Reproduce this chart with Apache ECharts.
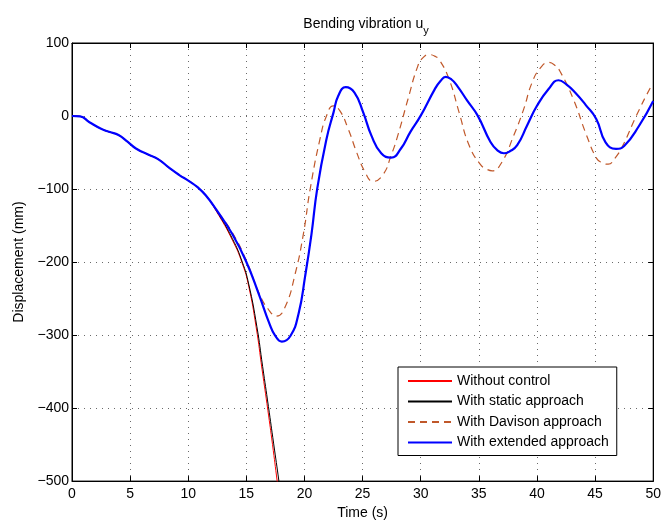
<!DOCTYPE html>
<html>
<head>
<meta charset="utf-8">
<script src="https://cdn.jsdelivr.net/npm/echarts@6/dist/echarts.min.js"></script>
<style>
html,body{margin:0;padding:0;background:#fff;}
#chart{width:664px;height:525px;}
</style>
</head>
<body>
<div id="chart"></div>
<script>
const xTicks = [0, 50, 5];
const yTicks = [-500, 100, 100];

const seriesNames = ['Without control', 'With static approach', 'With Davison approach', 'With extended approach'];

const timeNoCtrl = [0,0.7,1.5,2.5,3.25,4,4.8,5.5,6.5,7.4,8.4,9.2,10.1,10.8,11.5,12.4,13.8,14.65,15.2,15.85,16.35,16.85,17.25,17.65,17.85];
const dispNoCtrl = [0,-0.5,-8.5,-17.5,-22,-26,-35.5,-44.5,-52.5,-59,-71.5,-80.5,-89.5,-97.5,-108.5,-130,-170,-202,-233,-290,-347,-403,-450,-500,-525];

const timeStatic = [0,0.7,1.5,2.5,3.25,4,4.8,5.5,6.5,7.4,8.4,9.2,10.1,10.8,11.5,12.4,13.8,14.65,15.2,15.9,16.4,16.9,17.35,17.8,18.0];
const dispStatic = [0,-0.5,-8.5,-17.5,-22,-26,-35.5,-44.5,-52.5,-59,-71.5,-80.5,-89.5,-97.5,-108.5,-129,-168,-200,-230,-288,-343,-398,-449,-500,-525];

const timeDavison = [0,0.7,1.5,2.5,3.25,4,4.8,5.5,6.5,7.4,8.4,9.2,10.1,10.8,11.5,12.4,13.8,15.05,16.07,16.9,17.6,18.35,19.2,19.9,20.5,21.34,21.9,22.48,23.05,23.76,24.47,25.19,25.9,26.75,27.46,28.03,28.9,29.74,30.2,30.74,31.2,31.6,32.45,33.3,34.16,35.16,35.7,36.15,37,38,38.86,39.57,40.3,41,41.5,41.99,43.13,44.27,45.13,45.6,46.13,46.7,47.4,48.55,49.83,50];
const dispDavison = [0,-0.5,-8.5,-17.5,-22,-26,-35.5,-44.5,-52.5,-59,-71.5,-80.5,-89.5,-97.5,-108.5,-128,-160,-200,-242,-265,-274,-261,-216,-162,-99,-31,0.5,14,7,-17.6,-49,-76,-89.5,-80.5,-53.6,-26.6,23,68,80,84,82,77,50,5,-40,-67,-73,-75,-62.6,-26.6,9.5,45.5,66,73.4,70,61,23,-26.6,-58,-64,-66,-58,-40,0.5,41,44];

const timeExtended = [0,0.7,1.5,2.5,3.25,4,4.8,5.5,6.5,7.4,8.4,9.2,10.1,10.8,11.5,12.4,13.8,15.0,16.07,17.0,17.45,18.05,18.8,19.5,20.05,20.6,21.1,21.9,22.5,22.9,23.55,24.3,25.05,25.75,26.6,27.45,28.3,29.1,30,31.2,31.7,32.15,32.65,33.15,34,34.9,36,36.6,37.15,37.7,38.3,39.15,40,41,41.85,42.55,43.3,44.2,45.1,45.9,46.8,47.5,48.8,50];
const dispExtended = [0,-0.5,-8.5,-17.5,-22,-26,-35.5,-44.5,-52.5,-59,-71.5,-80.5,-89.5,-97.5,-108.5,-128,-162,-200,-244,-285,-300,-309,-301,-270,-220,-162,-99,-31,5,27.5,39.5,32,5,-26.5,-51,-57,-44.5,-22,0.5,36.5,48,53.5,50,41,21,0.5,-35.5,-47,-51,-48,-40,-13,14,37,49,43,32,15,-4,-36,-45,-41,-13,20.5];

const pairs = (ts, vs) => ts.map((t, i) => [t, vs[i]]);
const FONT = '"Liberation Sans", Arial, Helvetica, sans-serif';
const minus = v => String(v).replace('-', '\u2212');

const chart = echarts.init(document.getElementById('chart'), null, {renderer: 'canvas'});

const gridLine = {show: true, lineStyle: {color: '#6a6a6a', type: [1, 5], width: 1}};

const option = {
  animation: false,
  backgroundColor: '#fff',
  title: {
    text: '{a|Bending vibration u}{b|y}',
    left: 361,
    top: 8,
    textAlign: 'center',
    textStyle: {
      fontWeight: 'normal',
      rich: {
        a: {fontFamily: FONT, fontSize: 14, fontWeight: 'normal', color: '#000'},
        b: {fontFamily: FONT, fontSize: 11, fontWeight: 'normal', color: '#000', padding: [12, 0, 0, 0]}
      }
    }
  },
  grid: {left: 72, right: 7, top: 43, bottom: 38, show: true, borderColor: '#000', borderWidth: 1, backgroundColor: 'transparent'},
  legend: {
    orient: 'vertical',
    left: 398,
    top: 367,
    padding: [7, 8, 6, 9],
    itemWidth: 44,
    itemHeight: 14,
    itemGap: 6.5,
    backgroundColor: '#fff',
    borderColor: '#000',
    borderWidth: 1,
    borderRadius: 0,
    itemStyle: {opacity: 0},
    textStyle: {fontFamily: FONT, fontSize: 14, color: '#000', padding: [0, 0, 0, 0]},
    data: seriesNames
  },
  xAxis: [{
    type: 'value', min: xTicks[0], max: xTicks[1], interval: xTicks[2],
    name: 'Time (s)', nameLocation: 'middle', nameGap: 22,
    nameTextStyle: {fontFamily: FONT, fontSize: 14, color: '#000'},
    axisLine: {show: true, onZero: false, lineStyle: {color: '#000', width: 1}},
    axisTick: {show: true, inside: true, length: 5, lineStyle: {color: '#000'}},
    axisLabel: {fontFamily: FONT, fontSize: 14, color: '#000', margin: 6, formatter: minus},
    splitLine: gridLine
  }, {
    type: 'value', position: 'top', min: xTicks[0], max: xTicks[1], interval: xTicks[2],
    axisLine: {show: true, onZero: false, lineStyle: {color: '#000', width: 1}},
    axisTick: {show: true, inside: true, length: 5, lineStyle: {color: '#000'}},
    axisLabel: {show: false}, splitLine: {show: false}
  }],
  yAxis: [{
    type: 'value', min: yTicks[0], max: yTicks[1], interval: yTicks[2],
    name: 'Displacement (mm)', nameLocation: 'middle', nameGap: 44,
    nameTextStyle: {fontFamily: FONT, fontSize: 14, color: '#000'},
    axisLine: {show: true, onZero: false, lineStyle: {color: '#000', width: 1}},
    axisTick: {show: true, inside: true, length: 5, lineStyle: {color: '#000'}},
    axisLabel: {fontFamily: FONT, fontSize: 14, color: '#000', margin: 3, formatter: minus},
    splitLine: gridLine
  }, {
    type: 'value', position: 'right', min: yTicks[0], max: yTicks[1], interval: yTicks[2],
    axisLine: {show: true, onZero: false, lineStyle: {color: '#000', width: 1}},
    axisTick: {show: true, inside: true, length: 5, lineStyle: {color: '#000'}},
    axisLabel: {show: false}, splitLine: {show: false}
  }],
  series: [
    {name: seriesNames[0], type: 'line', data: pairs(timeNoCtrl, dispNoCtrl), symbol: 'none', smooth: 0.5, clip: true,
     lineStyle: {color: '#ff0000', width: 1}, itemStyle: {color: '#ff0000'}},
    {name: seriesNames[1], type: 'line', data: pairs(timeStatic, dispStatic), symbol: 'none', smooth: 0.5, clip: true,
     lineStyle: {color: '#000000', width: 1}, itemStyle: {color: '#000000'}},
    {name: seriesNames[2], type: 'line', data: pairs(timeDavison, dispDavison), symbol: 'none', smooth: 0.5, clip: true,
     lineStyle: {color: '#c0582a', width: 1.2, type: [7, 5]}, itemStyle: {color: '#c0582a'}},
    {name: seriesNames[3], type: 'line', data: pairs(timeExtended, dispExtended), symbol: 'none', smooth: 0.5, clip: true,
     lineStyle: {color: '#0000ff', width: 2.2}, itemStyle: {color: '#0000ff'}}
  ]
};
chart.setOption(option);
</script>
</body>
</html>
